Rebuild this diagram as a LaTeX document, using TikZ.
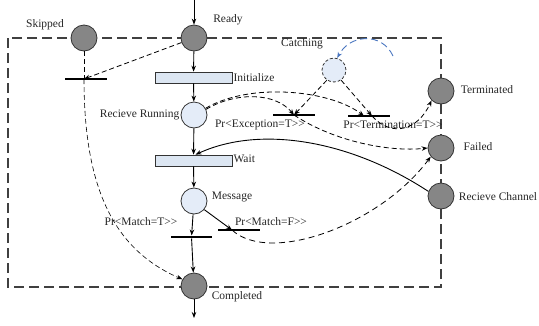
\documentclass[tikz,border=0pt]{standalone}
\usepackage{fontspec}
\setmainfont{Liberation Serif}
\usetikzlibrary{arrows.meta}
\definecolor{placegray}{HTML}{868686}
\definecolor{lightblue}{HTML}{E4ECF8}
\definecolor{rectblue}{HTML}{DCE6F2}
\definecolor{arcblue}{HTML}{4A76C0}
\newcommand{\gtgt}{>\kern0pt>}
\newcommand{\lt}{<\kern0pt}
\begin{document}
\begin{tikzpicture}[x=1pt,y=-1pt,
  font=\fontsize{11.5}{13}\selectfont,
  place/.style={circle,draw=black!80,line width=0.8pt,minimum size=26pt,inner sep=0pt},
  full/.style={place,fill=placegray},
  empty/.style={place,fill=lightblue},
  trans/.style={rectangle,draw=black!80,line width=0.7pt,fill=rectblue,minimum width=77pt,minimum height=11pt,inner sep=0pt},
  bar/.style={rectangle,fill=black,minimum width=42pt,minimum height=2.6pt,inner sep=0pt},
  flow/.style={line width=0.9pt,-{Stealth[length=6pt,width=4.5pt]}},
  dflow/.style={line width=0.8pt,dash pattern=on 5pt off 3pt,-{Stealth[length=6pt,width=4.5pt]}},
  lbl/.style={text=black!85,inner sep=1pt}]
\useasboundingbox (0,0) rectangle (539,325);
% border
\draw[line width=1.5pt,black!75,dash pattern=on 10pt off 5pt] (8,38) rectangle (441,287);
% nodes
\node[full] (ready) at (194,38) {};
\node[full] (skipped) at (84,38) {};
\node[bar] (skipbar) at (86,79) {};
\node[trans] (init) at (193.5,77.5) {};
\node[empty] (running) at (194,115) {};
\node[trans] (wait) at (193.5,160.5) {};
\node[empty] (message) at (194,201) {};
\node[bar,minimum width=41pt] (tbar) at (191.5,237) {};
\node[bar] (fbar) at (239,230) {};
\node[full] (completed) at (194,286) {};
\node[place,minimum size=24pt,fill=lightblue,dash pattern=on 3pt off 2pt] (catching) at (334,70) {};
\node[bar] (ebar) at (294,115) {};
\node[bar] (termbar) at (369,116) {};
\node[full] (terminated) at (441,91) {};
\node[full] (failed) at (441,148) {};
\node[full] (channel) at (441,196) {};
\coordinate (top) at (194,0);
\coordinate (bottom) at (194,318);
% labels
\node[lbl] at (45,25) {Skipped};
\node[lbl] at (228,20) {Ready};
\node[lbl,anchor=west] at (init.east) {Initialize};
\node[lbl,anchor=east] at (running.west) {Recieve Running};
\node[lbl,anchor=west] at ([yshift=1.5pt]wait.east) {Wait};
\node[lbl] at (232,197) {Message};
\node[lbl] at (237,297) {Completed};
\node[lbl] at (302,44) {Catching};
\node[lbl] at (487,90) {Terminated};
\node[lbl] at (478,147) {Failed};
\node[lbl] at (498,197) {Recieve Channel};
\node[lbl] at (260,125) {Pr\lt Exception=T\gtgt};
\node[lbl] at (393,125) {Pr\lt Termination=T\gtgt};
\node[lbl] at (141,222) {Pr\lt Match=T\gtgt};
\node[lbl] at (271,222) {Pr\lt Match=F\gtgt};
% main flow
\draw[flow] (top) -- (ready);
\draw[flow] (ready) -- (init);
\draw[flow] (init) -- (running);
\draw[flow] (running) -- (wait);
\draw[flow] (wait) -- (message);
\draw[flow] (message) -- (tbar);
\draw[flow] (tbar) -- (completed);
\draw[flow] (completed) -- (bottom);
\draw[flow] (message.-40) -- ([xshift=-7pt]fbar.center);
% skip
\draw[line width=0.8pt,dash pattern=on 5pt off 3pt] (skipped) -- ([xshift=-2pt]skipbar.center);
\draw[dflow] (ready.-160) -- ([xshift=-2pt]skipbar.center);
\draw[line width=0.6pt,dash pattern=on 5pt off 3pt,-{Stealth[length=6pt,width=4.5pt]}] ([xshift=-2pt]skipbar.center) .. controls (84,190) and (115,250) .. (completed.150);
% match false
\draw[line width=0.8pt,dash pattern=on 6pt off 4pt,-{Stealth[length=6pt,width=4.5pt]}] ([xshift=-7pt]fbar.center) .. controls (270,265) and (380,225) .. (failed.-140);
% catching
\draw[dflow] (catching.-125) -- (ebar.center);
\draw[dflow] (catching.-55) -- ([xshift=3pt]termbar.center);
\draw[arcblue,line width=0.9pt,dash pattern=on 7pt off 4pt,-{Stealth[length=6pt,width=4.5pt]}] (393,56) .. controls (382,32) and (350,34) .. (catching.75);
% running exceptions
\draw[dflow] (running.25) .. controls (235,92) and (275,92) .. (ebar.center);
\draw[dflow] (running.30) .. controls (250,82) and (330,90) .. ([xshift=-5pt]termbar.center);
\draw[dflow] (ebar.center) .. controls (335,142) and (390,152) .. (failed.west);
\draw[dflow] ([xshift=3pt]termbar.center) .. controls (392,138) and (418,130) .. (terminated.-135);
% channel
\draw[flow] (channel.160) .. controls (350,140) and (260,125) .. ([xshift=2pt]wait.north);
\end{tikzpicture}
\end{document}
